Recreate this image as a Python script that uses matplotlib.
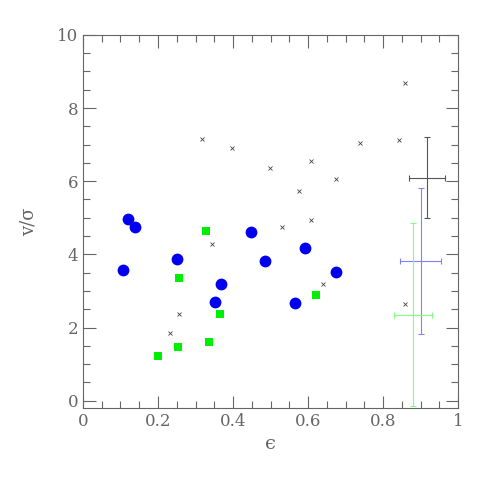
import matplotlib
matplotlib.use('Agg')
import matplotlib.pyplot as plt
from matplotlib.ticker import MultipleLocator

# blue circles
blue_eps = [0.121, 0.140, 0.108, 0.251, 0.369, 0.351, 0.448, 0.485, 0.593, 0.674, 0.565]
blue_vs = [4.96, 4.74, 3.58, 3.87, 3.18, 2.69, 4.61, 3.83, 4.18, 3.51, 2.66]

# green squares
green_eps = [0.328, 0.256, 0.365, 0.337, 0.252, 0.200, 0.620]
green_vs = [4.63, 3.36, 2.36, 1.60, 1.46, 1.22, 2.90]

# small crosses
cross_eps = [0.317, 0.397, 0.499, 0.343, 0.256, 0.233, 0.859, 0.739, 0.842, 0.608,
             0.674, 0.577, 0.608, 0.530, 0.641, 0.859]
cross_vs = [7.15, 6.90, 6.37, 4.29, 2.38, 1.86, 8.69, 7.04, 7.12, 6.55,
            6.05, 5.73, 4.95, 4.76, 3.19, 2.64]

# typical error bars
err_x = [0.918, 0.900, 0.879]
err_y = [6.10, 3.82, 2.35]
err_dx = [0.048, 0.055, 0.051]
err_dy = [1.10, 2.00, 2.50]
err_colors = ['#555555', '#8080ff', '#80ff80']

plt.rcParams['font.family'] = ['DejaVu Serif', 'DejaVu Sans']
gray = '#666666'

fig = plt.figure(figsize=(4.91, 4.91), dpi=100)
ax = fig.add_axes([0.169, 0.169, 0.764, 0.760])

ax.plot(cross_eps, cross_vs, 'x', color='#444444', markersize=3.5, markeredgewidth=0.6)
ax.plot(blue_eps, blue_vs, 'o', color='#0000ee', markersize=8.5, markeredgewidth=0)
ax.plot(green_eps, green_vs, 's', color='#00ee00', markersize=6, markeredgewidth=0)

for i in range(len(err_x)):
    ax.errorbar(err_x[i], err_y[i], xerr=err_dx[i], yerr=err_dy[i], fmt='none',
                ecolor=err_colors[i], elinewidth=0.8, capsize=2.5, capthick=0.8)

ax.set_xlim(0, 1)
ax.set_ylim(-0.2, 10)
ax.xaxis.set_major_locator(MultipleLocator(0.2))
ax.xaxis.set_minor_locator(MultipleLocator(0.05))
ax.yaxis.set_major_locator(MultipleLocator(2))
ax.yaxis.set_minor_locator(MultipleLocator(0.5))
ax.xaxis.set_major_formatter(plt.FuncFormatter(lambda v, p: '%g' % round(v, 2)))

ax.tick_params(which='both', direction='in', top=True, right=True, colors=gray,
               labelsize=12, width=0.8)
ax.tick_params(which='major', length=9)
ax.tick_params(which='minor', length=5)
for s in ax.spines.values():
    s.set_color(gray)
    s.set_linewidth(0.8)

ax.set_xlabel('ϵ', fontsize=14, color=gray, labelpad=4)
ax.set_ylabel('v/σ', fontsize=13, color=gray, labelpad=14)

fig.savefig('out.png', dpi=100)
